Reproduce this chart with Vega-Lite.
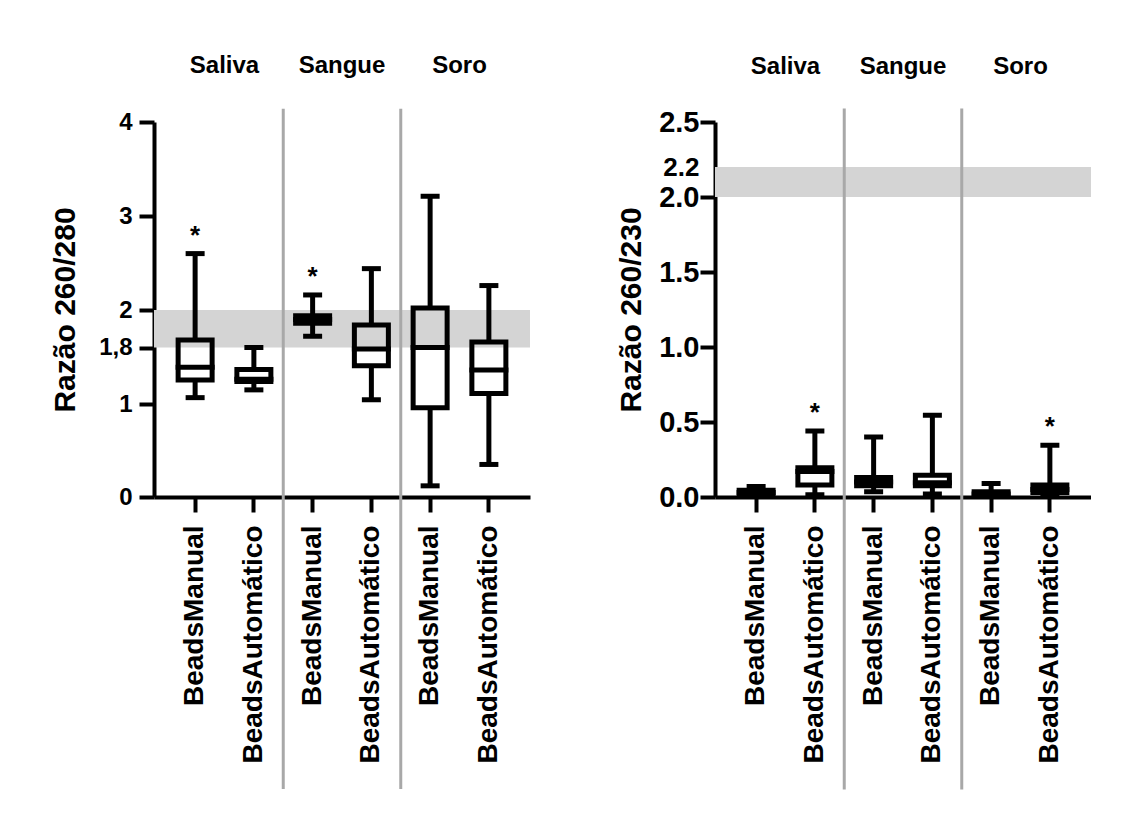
{
  "$schema": "https://vega.github.io/schema/vega-lite/v6.json",
  "background": "white",
  "padding": {"left": 50, "top": 53, "right": 0, "bottom": 0},
  "spacing": 86,
  "config": {
    "font": "Liberation Sans",
    "view": {"stroke": null},
    "axis": {
      "grid": false,
      "domainColor": "black",
      "domainWidth": 4,
      "tickColor": "black",
      "tickWidth": 4,
      "tickSize": 15,
      "labelColor": "black",
      "labelFont": "Liberation Sans",
      "labelFontWeight": "bold",
      "labelLimit": 400,
      "titleFont": "Liberation Sans",
      "titleFontWeight": "bold",
      "titleColor": "black"
    }
  },
  "datasets": {
    "r280": [
      {"id": "Saliva|BeadsManual", "amostra": "Saliva", "metodo": "BeadsManual", "min": 1.09, "q1": 1.34, "mediana": 1.52, "q3": 1.84, "max": 2.6, "sig": "*"},
      {"id": "Saliva|BeadsAutomático", "amostra": "Saliva", "metodo": "BeadsAutomático", "min": 1.2, "q1": 1.32, "mediana": 1.35, "q3": 1.49, "max": 1.8, "sig": ""},
      {"id": "Sangue|BeadsManual", "amostra": "Sangue", "metodo": "BeadsManual", "min": 1.86, "q1": 1.93, "mediana": 1.95, "q3": 1.97, "max": 2.16, "sig": "*"},
      {"id": "Sangue|BeadsAutomático", "amostra": "Sangue", "metodo": "BeadsAutomático", "min": 1.06, "q1": 1.54, "mediana": 1.78, "q3": 1.92, "max": 2.44, "sig": ""},
      {"id": "Soro|BeadsManual", "amostra": "Soro", "metodo": "BeadsManual", "min": 0.12, "q1": 0.96, "mediana": 1.8, "q3": 2.02, "max": 3.21, "sig": ""},
      {"id": "Soro|BeadsAutomático", "amostra": "Soro", "metodo": "BeadsAutomático", "min": 0.35, "q1": 1.15, "mediana": 1.48, "q3": 1.83, "max": 2.26, "sig": ""}
    ],
    "r230": [
      {"id": "Saliva|BeadsManual", "amostra": "Saliva", "metodo": "BeadsManual", "min": 0.01, "q1": 0.015, "mediana": 0.03, "q3": 0.045, "max": 0.07, "sig": ""},
      {"id": "Saliva|BeadsAutomático", "amostra": "Saliva", "metodo": "BeadsAutomático", "min": 0.015, "q1": 0.08, "mediana": 0.17, "q3": 0.195, "max": 0.44, "sig": "*"},
      {"id": "Sangue|BeadsManual", "amostra": "Sangue", "metodo": "BeadsManual", "min": 0.035, "q1": 0.075, "mediana": 0.1, "q3": 0.13, "max": 0.4, "sig": ""},
      {"id": "Sangue|BeadsAutomático", "amostra": "Sangue", "metodo": "BeadsAutomático", "min": 0.02, "q1": 0.075, "mediana": 0.095, "q3": 0.145, "max": 0.545, "sig": ""},
      {"id": "Soro|BeadsManual", "amostra": "Soro", "metodo": "BeadsManual", "min": 0.005, "q1": 0.01, "mediana": 0.02, "q3": 0.035, "max": 0.09, "sig": ""},
      {"id": "Soro|BeadsAutomático", "amostra": "Soro", "metodo": "BeadsAutomático", "min": 0.015, "q1": 0.03, "mediana": 0.05, "q3": 0.08, "max": 0.345, "sig": "*"}
    ]
  },
  "hconcat": [
    {
      "width": 376,
      "height": 375,
      "data": {"name": "r280"},
      "layer": [
        {
          "data": {"values": [{"inferior": 1.8, "superior": 2.0}]},
          "mark": {"type": "rect", "color": "#d4d4d4"},
          "encoding": {
            "y": {
              "field": "inferior", "type": "quantitative",
              "scale": {"type": "linear", "domain": [0, 1, 1.8, 2, 4], "range": [375, 282, 225.5, 188, 0], "nice": false, "zero": false},
              "axis": {
                "title": "Razão 260/280", "titleFontSize": 30, "titlePadding": 18,
                "values": [0, 1, 1.8, 2, 3, 4],
                "labelExpr": "datum.value == 1.8 ? '1,8' : format(datum.value, 'd')",
                "labelFontSize": 24, "labelPadding": 7
              }
            },
            "y2": {"field": "superior"}
          }
        },
        {
          "transform": [{"filter": "datum.metodo == 'BeadsAutomático' && datum.amostra != 'Soro'"}],
          "mark": {"type": "rule", "color": "#a8a8a8", "strokeWidth": 3, "clip": false},
          "encoding": {
            "x": {"field": "id", "type": "nominal", "bandPosition": 1,
              "scale": {"type": "band", "domain": ["Saliva|BeadsManual", "Saliva|BeadsAutomático", "Sangue|BeadsManual", "Sangue|BeadsAutomático", "Soro|BeadsManual", "Soro|BeadsAutomático"], "paddingInner": 0, "paddingOuter": 0.2},
              "axis": {"title": null, "labelExpr": "split(datum.value, '|')[1]", "labelAngle": 270, "labelFontSize": 28, "labelPadding": 13}},
            "y": {"datum": 4.14},
            "y2": {"datum": -3.14}
          }
        },
        {
          "mark": {"type": "rule", "color": "black", "strokeWidth": 5},
          "encoding": {
            "x": {"field": "id", "type": "nominal"},
            "y": {"field": "min", "type": "quantitative"},
            "y2": {"field": "q1"}
          }
        },
        {
          "mark": {"type": "rule", "color": "black", "strokeWidth": 5},
          "encoding": {
            "x": {"field": "id", "type": "nominal"},
            "y": {"field": "q3", "type": "quantitative"},
            "y2": {"field": "max"}
          }
        },
        {
          "mark": {"type": "bar", "width": 34, "fill": "white", "fillOpacity": 0, "stroke": "black", "strokeWidth": 5},
          "encoding": {
            "x": {"field": "id", "type": "nominal"},
            "y": {"field": "q1", "type": "quantitative"},
            "y2": {"field": "q3"}
          }
        },
        {
          "mark": {"type": "tick", "color": "black", "size": 39, "thickness": 5, "opacity": 1},
          "encoding": {
            "x": {"field": "id", "type": "nominal"},
            "y": {"field": "mediana", "type": "quantitative"}
          }
        },
        {
          "mark": {"type": "tick", "color": "black", "size": 19, "thickness": 5, "opacity": 1},
          "encoding": {
            "x": {"field": "id", "type": "nominal"},
            "y": {"field": "min", "type": "quantitative"}
          }
        },
        {
          "mark": {"type": "tick", "color": "black", "size": 19, "thickness": 5, "opacity": 1},
          "encoding": {
            "x": {"field": "id", "type": "nominal"},
            "y": {"field": "max", "type": "quantitative"}
          }
        },
        {
          "transform": [{"filter": "datum.sig == '*'"}],
          "mark": {"type": "text", "fontSize": 26, "fontWeight": "bold", "color": "black", "baseline": "middle", "dy": -18},
          "encoding": {
            "x": {"field": "id", "type": "nominal"},
            "y": {"field": "max", "type": "quantitative"},
            "text": {"field": "sig"}
          }
        },
        {
          "transform": [{"filter": "datum.metodo == 'BeadsAutomático'"}],
          "mark": {"type": "text", "fontSize": 24, "fontWeight": "bold", "color": "black", "baseline": "middle", "clip": false},
          "encoding": {
            "x": {"field": "id", "type": "nominal", "bandPosition": 0},
            "y": {"datum": 4.60},
            "text": {"field": "amostra"}
          }
        }
      ]
    },
    {
      "width": 376,
      "height": 375,
      "data": {"name": "r230"},
      "layer": [
        {
          "data": {"values": [{"inferior": 2.0, "superior": 2.2}]},
          "mark": {"type": "rect", "color": "#d4d4d4"},
          "encoding": {
            "y": {
              "field": "inferior", "type": "quantitative",
              "scale": {"type": "linear", "domain": [0, 2.5], "nice": false, "zero": true},
              "axis": {
                "title": "Razão 260/230", "titleFontSize": 30, "titlePadding": 12,
                "values": [0, 0.5, 1, 1.5, 2, 2.2, 2.5],
                "format": ".1f",
                "labelFontSize": {"condition": {"test": "datum.value == 2.2", "value": 26}, "value": 29},
                "labelPadding": 1,
                "tickOpacity": {"condition": {"test": "datum.value == 2.2", "value": 0}, "value": 1}
              }
            },
            "y2": {"field": "superior"}
          }
        },
        {
          "transform": [{"filter": "datum.metodo == 'BeadsAutomático' && datum.amostra != 'Soro'"}],
          "mark": {"type": "rule", "color": "#a8a8a8", "strokeWidth": 3, "clip": false},
          "encoding": {
            "x": {"field": "id", "type": "nominal", "bandPosition": 1,
              "scale": {"type": "band", "domain": ["Saliva|BeadsManual", "Saliva|BeadsAutomático", "Sangue|BeadsManual", "Sangue|BeadsAutomático", "Soro|BeadsManual", "Soro|BeadsAutomático"], "paddingInner": 0, "paddingOuter": 0.2},
              "axis": {"title": null, "labelExpr": "split(datum.value, '|')[1]", "labelAngle": 270, "labelFontSize": 28, "labelPadding": 13}},
            "y": {"datum": 2.59},
            "y2": {"datum": -1.95}
          }
        },
        {
          "mark": {"type": "rule", "color": "black", "strokeWidth": 5},
          "encoding": {
            "x": {"field": "id", "type": "nominal"},
            "y": {"field": "min", "type": "quantitative"},
            "y2": {"field": "q1"}
          }
        },
        {
          "mark": {"type": "rule", "color": "black", "strokeWidth": 5},
          "encoding": {
            "x": {"field": "id", "type": "nominal"},
            "y": {"field": "q3", "type": "quantitative"},
            "y2": {"field": "max"}
          }
        },
        {
          "mark": {"type": "bar", "width": 34, "fill": "white", "fillOpacity": 0, "stroke": "black", "strokeWidth": 5},
          "encoding": {
            "x": {"field": "id", "type": "nominal"},
            "y": {"field": "q1", "type": "quantitative"},
            "y2": {"field": "q3"}
          }
        },
        {
          "mark": {"type": "tick", "color": "black", "size": 39, "thickness": 5, "opacity": 1},
          "encoding": {
            "x": {"field": "id", "type": "nominal"},
            "y": {"field": "mediana", "type": "quantitative"}
          }
        },
        {
          "mark": {"type": "tick", "color": "black", "size": 19, "thickness": 5, "opacity": 1},
          "encoding": {
            "x": {"field": "id", "type": "nominal"},
            "y": {"field": "min", "type": "quantitative"}
          }
        },
        {
          "mark": {"type": "tick", "color": "black", "size": 19, "thickness": 5, "opacity": 1},
          "encoding": {
            "x": {"field": "id", "type": "nominal"},
            "y": {"field": "max", "type": "quantitative"}
          }
        },
        {
          "transform": [{"filter": "datum.sig == '*'"}],
          "mark": {"type": "text", "fontSize": 26, "fontWeight": "bold", "color": "black", "baseline": "middle", "dy": -18},
          "encoding": {
            "x": {"field": "id", "type": "nominal"},
            "y": {"field": "max", "type": "quantitative"},
            "text": {"field": "sig"}
          }
        },
        {
          "transform": [{"filter": "datum.metodo == 'BeadsAutomático'"}],
          "mark": {"type": "text", "fontSize": 24, "fontWeight": "bold", "color": "black", "baseline": "middle", "clip": false},
          "encoding": {
            "x": {"field": "id", "type": "nominal", "bandPosition": 0},
            "y": {"datum": 2.87},
            "text": {"field": "amostra"}
          }
        }
      ]
    }
  ]
}
